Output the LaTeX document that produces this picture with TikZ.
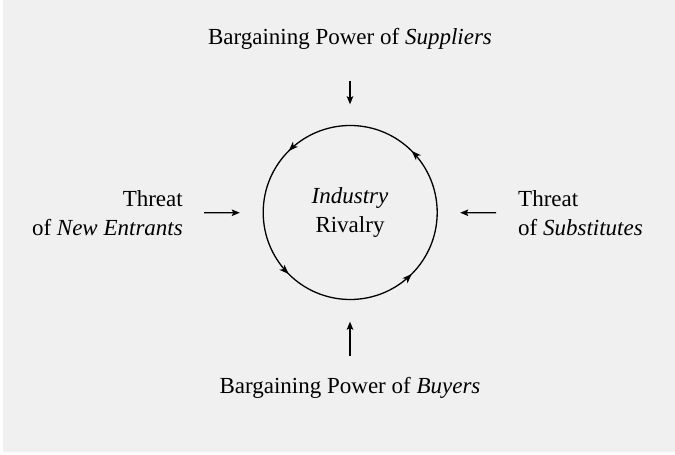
\documentclass[tikz,border=0pt]{standalone}
\usepackage{fontspec}
\setmainfont{Liberation Serif}
\usetikzlibrary{arrows.meta,decorations.markings}
\definecolor{panel}{HTML}{F0F0F0}
\tikzset{
  label/.style={inner sep=0pt, font=\fontsize{23}{29}\selectfont},
  force/.style={line width=1.2pt, -{Stealth[length=8pt,width=6.5pt,inset=1.5pt]}},
  cyclehead/.tip={Stealth[length=9.5pt,width=7pt,inset=2.5pt]},
  cycle/.style={line width=1.3pt, postaction={decorate}, decoration={markings,
    mark=at position 0.125 with {\arrow{cyclehead}},
    mark=at position 0.375 with {\arrow{cyclehead}},
    mark=at position 0.625 with {\arrow{cyclehead}},
    mark=at position 0.875 with {\arrow{cyclehead}}}},
}
\begin{document}
\begin{tikzpicture}[x=1pt,y=1pt]
  % canvas and grey panel
  \useasboundingbox (0,0) rectangle (675,455);
  \fill[white] (0,0) rectangle (675,455);
  \fill[panel] (3,3) rectangle (675,455);

  % central rivalry circle
  \node[label, circle, minimum size=174pt, align=center] (rivalry) at (350,242.5)
    {\textit{Industry}\\Rivalry};
  \draw[cycle] (rivalry.east) arc[start angle=0, end angle=360, radius=87pt];

  % the four outside forces
  \node[label, anchor=base] (sup) at (350,410) {Bargaining Power of \textit{Suppliers}};
  \node[label, anchor=base] (buy) at (350,61) {Bargaining Power of \textit{Buyers}};
  \node[label, anchor=east, align=right] (new) at (183,242) {Threat\\of \textit{New Entrants}};
  \node[label, anchor=west, align=left] (sub) at (518,242) {Threat\\of \textit{Substitutes}};

  \draw[force, shorten <=31pt, shorten >=21pt] (sup) -- (rivalry);
  \draw[force, shorten <=22pt, shorten >=22pt] (buy) -- (rivalry);
  \draw[force, shorten <=21pt, shorten >=23pt] (new) -- (rivalry);
  \draw[force, shorten <=22pt, shorten >=23pt] (sub) -- (rivalry);
\end{tikzpicture}
\end{document}
